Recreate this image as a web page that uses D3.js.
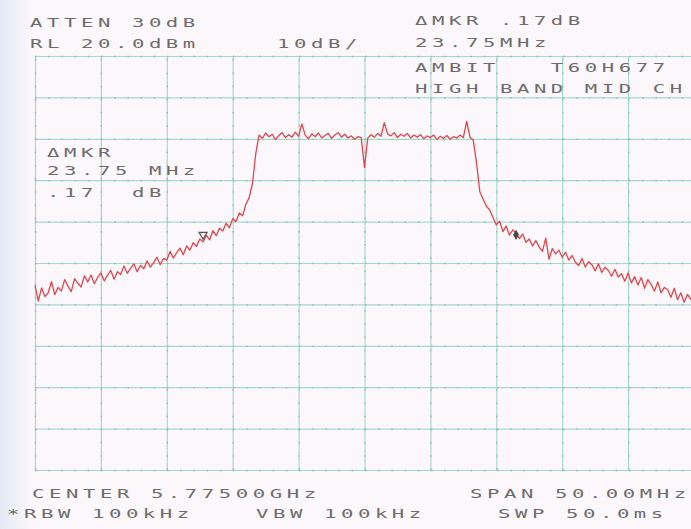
<!DOCTYPE html>
<html lang="en">
<head>
<meta charset="utf-8">
<title>Spectrum plot</title>
<style>
  body { margin: 0; background: #fcf7fb; }
  svg { display: block; }
  .grid line { stroke: #a8d8cc; stroke-width: 1.2px; }
  .grid path { display: none; }
  .minor line { stroke: #7fbfae; stroke-width: 1.3px; stroke-dasharray: 1.5,11.7; }
  .minor path { display: none; }
  .trace { fill: none; stroke: #e0464e; stroke-width: 1.3px; stroke-linejoin: round; }
  text.plot { font-family: "DejaVu Sans Mono", monospace; font-size: 12.5px; fill: #6c6c6c; white-space: pre; }
</style>
</head>
<body>
<script src="https://cdnjs.cloudflare.com/ajax/libs/d3/7.8.5/d3.min.js"></script>
<script>
// sweep: 5750..5800 MHz, 0.25 MHz per point
var freqStart = 5750, freqStop = 5800, freqStep = 0.25;
var refLevel = 20, bottomLevel = -80;
var freqTicks = d3.range(5750, 5801, 5);
var levelTicks = d3.range(-80, 21, 10);

var lowerSkirt = [-35.4,-39.2,-36.0,-38.1,-37.2,-34.5,-37.6,-35.9,-36.8,-34.0,
  -35.6,-36.9,-33.8,-34.9,-35.8,-33.1,-34.6,-32.9,-35.0,-33.5,
  -32.4,-34.3,-33.0,-31.8,-33.9,-32.1,-32.8,-30.7,-32.5,-31.3,
  -30.2,-32.1,-30.6,-31.4,-29.5,-31.0,-29.9,-28.6,-30.4,-28.9,
  -29.3,-27.2,-28.8,-27.5,-26.4,-28.0,-25.9,-26.9,-25.1,-26.0,
  -24.2,-24.9,-23.3,-24.4,-22.2,-23.4,-21.6,-22.3,-20.4,-21.5,
  -19.3,-20.0,-17.9,-18.6,-15.8,-14.2,-10.8,-3.6];

var passband = [0.9,0.1,1.4,0.5,1.1,-0.2,0.8,1.5,0.3,1.0,
  0.4,1.6,0.6,3.6,0.9,0.0,1.2,0.5,1.4,0.2,
  0.8,1.3,0.1,0.9,1.5,0.4,1.1,0.2,0.7,-0.1,
  0.5,0.3,-6.9,0.2,1.0,0.4,1.3,0.6,3.9,1.2,
  0.7,1.5,0.3,1.1,0.6,1.3,0.2,0.9,0.4,1.0,
  0.0,0.7,0.3,0.9,-0.2,0.6,0.1,0.8,-0.1,0.5,
  0.2,0.9,0.3,4.2,0.4,-0.3];

var upperSkirt = [-5.8,-12.8,-14.6,-16.3,-17.2,-19.0,-20.8,-19.9,-22.4,-21.1,
  -23.3,-22.0,-22.8,-24.1,-23.0,-25.0,-24.2,-25.9,-24.6,-26.1,
  -27.2,-24.0,-29.1,-26.5,-27.8,-26.9,-28.6,-27.4,-29.3,-28.2,
  -29.8,-30.6,-28.9,-31.0,-29.7,-30.4,-31.9,-30.2,-32.3,-31.0,
  -31.8,-33.2,-31.5,-33.4,-32.6,-34.4,-32.4,-34.8,-33.3,-35.3,
  -33.5,-36.1,-34.0,-35.2,-36.8,-34.6,-37.2,-35.9,-36.4,-38.3,
  -36.1,-38.9,-37.2,-39.5,-37.6,-38.7,-40.1];

var markerFreqs = [5762.75, 5786.5];
var markerLevels = [-23.4, -23.2];

var headerLeft = ["ATTEN 30dB", "RL 20.0dBm"];
var scaleLabel = "10dB/";
var headerRight = ["\u0394MKR .17dB", "23.75MHz", "AMBIT   T60H677", "HIGH BAND MID CH"];
var markerReadout = ["\u0394MKR", "23.75 MHz", ".17  dB"];
var footerTop = ["CENTER 5.77500GHz", "SPAN 50.00MHz"];
var footerBottom = ["*RBW 100kHz", "VBW 100kHz", "SWP 50.0ms"];

var fullwidth = 691, fullheight = 529;
var plot = { left: 35, right: 694, top: 56, bottom: 470 };

var levels = lowerSkirt.concat(passband, upperSkirt);
var trace = levels.map(function(v, i) {
  return { freq: freqStart + i * freqStep, level: v };
});

var x = d3.scaleLinear().domain([freqStart, freqStop]).range([plot.left, plot.right]);
var y = d3.scaleLinear().domain([bottomLevel, refLevel]).range([plot.bottom, plot.top]);

var svg = d3.select("body").append("svg")
  .attr("width", fullwidth)
  .attr("height", fullheight);

var defs = svg.append("defs");
var grad = defs.append("linearGradient").attr("id", "edge")
  .attr("x1", "0").attr("x2", "1").attr("y1", "0").attr("y2", "0");
grad.append("stop").attr("offset", "0%").attr("stop-color", "#e4eaf4");
grad.append("stop").attr("offset", "100%").attr("stop-color", "#fcf7fb");

svg.append("rect").attr("width", fullwidth).attr("height", fullheight).attr("fill", "#fcf7fb");
svg.append("rect").attr("width", 32).attr("height", fullheight).attr("fill", "url(#edge)");

// graticule
svg.append("g")
  .attr("class", "grid")
  .attr("transform", "translate(0," + plot.bottom + ")")
  .call(d3.axisBottom(x).tickValues(freqTicks).tickSize(-(plot.bottom - plot.top)).tickFormat(""));

svg.append("g")
  .attr("class", "grid")
  .attr("transform", "translate(" + plot.left + ",0)")
  .call(d3.axisLeft(y).tickValues(levelTicks).tickSize(-(plot.right - plot.left)).tickFormat(""));

// little darker dashes along the graticule
svg.append("g")
  .attr("class", "minor")
  .attr("transform", "translate(0," + plot.bottom + ")")
  .call(d3.axisBottom(x).tickValues(freqTicks).tickSize(-(plot.bottom - plot.top)).tickFormat(""));

svg.append("g")
  .attr("class", "minor")
  .attr("transform", "translate(" + plot.left + ",0)")
  .call(d3.axisLeft(y).tickValues(levelTicks).tickSize(-(plot.right - plot.left)).tickFormat(""));

var line = d3.line()
  .x(function(d) { return x(d.freq); })
  .y(function(d) { return y(d.level); });

svg.append("path")
  .datum(trace)
  .attr("class", "trace")
  .attr("d", line);

// markers
svg.append("path")
  .attr("d", d3.symbol(d3.symbolTriangle, 28)())
  .attr("transform", "translate(" + x(markerFreqs[0]) + "," + (y(markerLevels[0]) - 1) + ") rotate(180)")
  .attr("fill", "none")
  .attr("stroke", "#555")
  .attr("stroke-width", 1.2);

svg.append("path")
  .attr("d", d3.symbol(d3.symbolDiamond, 30)())
  .attr("transform", "translate(" + x(markerFreqs[1]) + "," + y(markerLevels[1]) + ")")
  .attr("fill", "#4a4a4a");

// plotter text: 17px per character
function label(t, px, py) {
  svg.append("text")
    .attr("class", "plot")
    .attr("xml:space", "preserve")
    .attr("transform", "translate(" + px + "," + py + ") scale(1.65,1)")
    .attr("letter-spacing", 2.77)
    .text(t);
}

label(headerLeft[0], 30, 27);
label(headerLeft[1], 30, 48);
label(scaleLabel, 277, 48);

label(headerRight[0], 415, 25);
label(headerRight[1], 415, 47);
label(headerRight[2], 415, 72);
label(headerRight[3], 415, 93);

label(markerReadout[0], 47, 157);
label(markerReadout[1], 47, 175);
label(markerReadout[2], 47, 197);

label(footerTop[0], 32, 498);
label(footerTop[1], 470, 498);
label(footerBottom[0], 7, 518);
label(footerBottom[1], 256, 518);
label(footerBottom[2], 498, 518);
</script>
</body>
</html>
